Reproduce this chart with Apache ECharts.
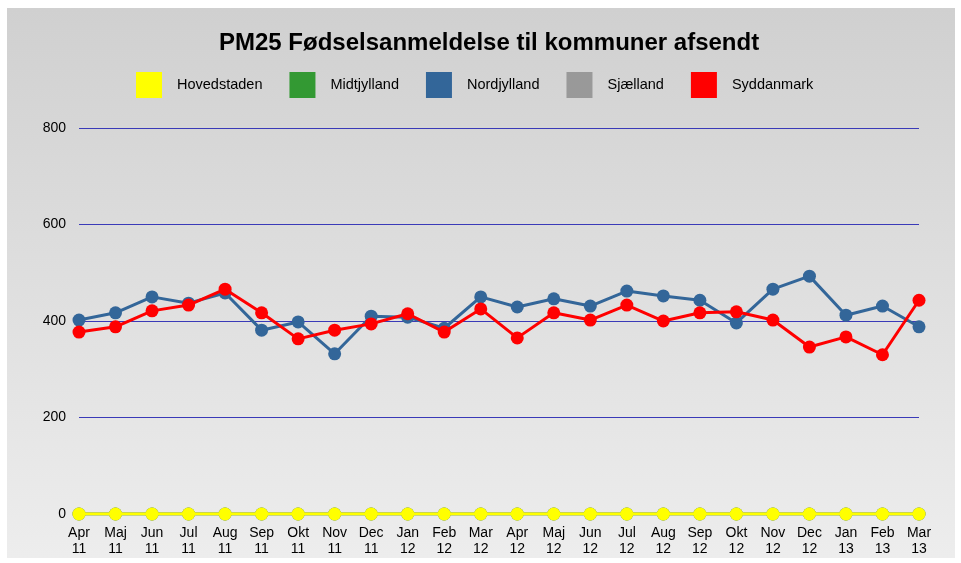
<!DOCTYPE html>
<html>
<head>
<meta charset="utf-8">
<script src="https://cdn.jsdelivr.net/npm/echarts@6/dist/echarts.min.js"></script>
<style>
  html,body{margin:0;padding:0;background:#fff;}
  #chart{position:absolute;left:7px;top:8px;width:948px;height:550px;}
</style>
</head>
<body>
<div id="chart"></div>
<script>
const categories = ["Apr\n11","Maj\n11","Jun\n11","Jul\n11","Aug\n11","Sep\n11","Okt\n11","Nov\n11","Dec\n11","Jan\n12","Feb\n12","Mar\n12","Apr\n12","Maj\n12","Jun\n12","Jul\n12","Aug\n12","Sep\n12","Okt\n12","Nov\n12","Dec\n12","Jan\n13","Feb\n13","Mar\n13"];
const hovedstaden = [0,0,0,0,0,0,0,0,0,0,0,0,0,0,0,0,0,0,0,0,0,0,0,0];
const midtjylland = [0,0,0,0,0,0,0,0,0,0,0,0,0,0,0,0,0,0,0,0,0,0,0,0];
const nordjylland = [402,417,450,437,458,381,398,332,410,408,385,450,429,446,431,462,452,443,396,466,493,412,431,388];
const sjaelland = [0,0,0,0,0,0,0,0,0,0,0,0,0,0,0,0,0,0,0,0,0,0,0,0];
const syddanmark = [377,388,421,433,466,417,363,381,394,415,377,425,365,417,402,433,400,417,419,402,346,367,330,443];

const names = ["Hovedstaden","Midtjylland","Nordjylland","Sjælland","Syddanmark"];
const colors = ["#ffff00","#339933","#336699","#999999","#ff0000"];
const dataSets = [hovedstaden, midtjylland, nordjylland, sjaelland, syddanmark];
const zs = [10, 2, 3, 2, 4];

const chart = echarts.init(document.getElementById('chart'));
const font = "'Liberation Sans', Arial, Helvetica, sans-serif";
chart.setOption({
  animation: false,
  backgroundColor: new echarts.graphic.LinearGradient(0,0,0,1,[
    {offset:0,color:'#d0d0d0'},{offset:1,color:'#ededed'}
  ]),
  textStyle:{fontFamily:font},
  title:{
    text:'PM25 Fødselsanmeldelse til kommuner afsendt',
    left:207, top:18,
    textStyle:{fontFamily:font,fontSize:24,fontWeight:'bold',color:'#000'}
  },
  legend:{
    top:59, left:124,
    itemWidth:26, itemHeight:26, itemGap:27,
    icon:'rect',
    textStyle:{fontFamily:font,fontSize:14.5,color:'#000',padding:[0,0,0,10]},
    data:names.map((n,i)=>({name:n,itemStyle:{color:colors[i]}}))
  },
  grid:{left:72,right:36,top:120,bottom:44,containLabel:false,outerBoundsMode:'none'},
  xAxis:{
    type:'category', data:categories, boundaryGap:false,
    axisLine:{show:false}, axisTick:{show:false},
    axisLabel:{fontFamily:font,fontSize:14,color:'#000',lineHeight:16,margin:11,interval:0}
  },
  yAxis:{
    type:'value', min:0, max:800, interval:200,
    axisLine:{show:false}, axisTick:{show:false},
    axisLabel:{fontFamily:font,fontSize:14,color:'#000',margin:13},
    splitLine:{lineStyle:{color:'#3a3ab8',width:1}}
  },
  series: names.map((n,i)=>({
    name:n, type:'line', data:dataSets[i], z:zs[i],
    symbol:'circle', symbolSize:13, showSymbol:true,
    lineStyle:{color:colors[i],width:3},
    itemStyle:{color:colors[i]}
  }))
});
</script>
</body>
</html>
